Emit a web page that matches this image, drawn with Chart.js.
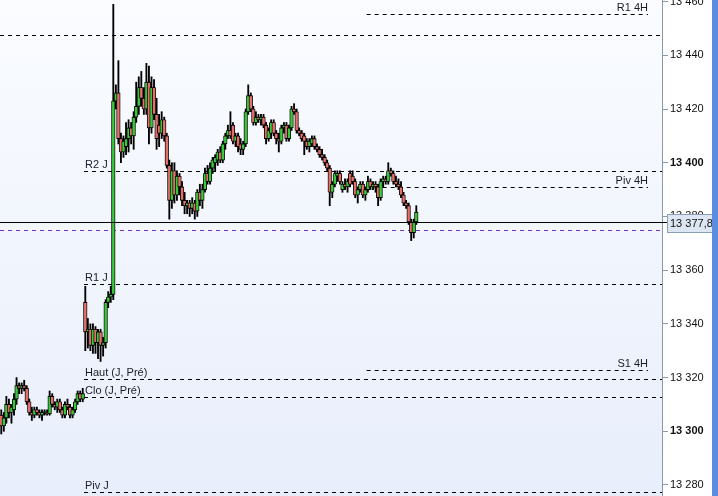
<!DOCTYPE html>
<html>
<head>
<meta charset="utf-8">
<script src="https://cdn.jsdelivr.net/npm/chart.js@4.4.1/dist/chart.umd.min.js"></script>
<style>
html, body { margin: 0; padding: 0; background: #fff; overflow: hidden; }
#wrap { position: relative; width: 718px; height: 496px; }
</style>
</head>
<body>
<div id="wrap"><canvas id="bougies"></canvas></div>
<script>
// bougies : ouverture / haut / bas / clôture
const opens = [
  13306,13302,13305,13310,13307,13308,13312,13317,13316,13317,
  13316,13311,13307,13306,13308,13307,13306,13307,13307,13306.5,
  13313,13310,13309,13311,13308,13306,13310,13309,13306,13308,
  13311,13314,13312,
  13348,13337,13338,13332,13338,13333,13337,13332,13333,13348,13350,13351,
  13423,13426,13409,13404,13406,13409,13413,13410,13417,13421,
  13428,13424,13420,13430,13413,13428,13418,13414,13411,13416,
  13410,13399,13386,13397,13388,13395,13391,13386,13384,13385,
  13383,13385,13382,13389,13386,13390,13396,13393,13398,13400,
  13401,13404,13401,13407,13410,13412,13414,13408,13410,13407,
  13405,13407,13419,13425,13420,13415,13417,13416,13417,13414,
  13409,13411,13415,13411,13409,13408,13413,13414,13409,13413,
  13420,13419,13412,13411,13410,13408,13406,13407,13409,13406,
  13405,13403,13402,13400,13398,
  13389,13392,13395,13396,13390,13392,13391,13396,13395,13393,
  13388,13390,13392,13388,13390,13393,13391,13392,13391,13387,
  13393,13394,13393,13397,13396,13393,13392,13391,13388,13385,
  13384,13378,13374,13378
];
const highs = [
  13308,13307,13313,13312,13310,13314,13320,13318,13318,13319,
  13317,13312,13309,13309,13309,13308,13308,13308,13308,13315,
  13314,13311,13312,13312,13309,13311,13312,13310,13309,13312,
  13315,13315,13316,
  13354,13342,13340,13340,13339,13338,13338,13335,13349,13352,13354,13459,
  13429,13438,13411,13410,13415,13416,13415,13419,13430,13432,
  13434,13428,13437,13436,13432,13431,13424,13418,13419,13417,
  13411,13401,13400,13400,13397,13396,13393,13389,13386,13386,
  13387,13386,13390,13392,13392,13398,13399,13400,13402,13403,
  13405,13406,13408,13411,13414,13419,13415,13411,13411,13409,
  13408,13420,13429,13426,13421,13419,13418,13418,13418,13415,
  13413,13416,13416,13412,13411,13414,13415,13415,13414,13421,
  13422,13420,13413,13412,13411,13409,13409,13410,13410,13407,
  13406,13405,13403,13401,13399,
  13393,13397,13397,13397,13393,13394,13394,13397,13397,13394,
  13391,13393,13393,13391,13395,13394,13393,13393,13392,13394,
  13395,13395,13400,13398,13397,13395,13394,13393,13389,13386,
  13385,13379,13379,13384
];
const lows = [
  13299,13300,13303,13305,13303,13306,13310,13314,13314,13315,
  13310,13306,13304,13305,13306,13305,13304,13306,13306,13306,
  13309,13308,13307,13307,13305,13305,13308,13305,13305,13307,
  13310,13311,13311,
  13330,13331,13330,13329,13329,13327,13326,13328,13331,13346,13348,13349,
  13420,13407,13400,13402,13403,13404,13407,13405,13415,13418,
  13421,13418,13418,13407,13411,13416,13405,13406,13409,13408,
  13398,13379,13383,13385,13386,13388,13384,13381,13381,13380,
  13381,13379,13380,13384,13383,13389,13392,13392,13396,13397,
  13399,13400,13400,13405,13409,13409,13407,13406,13404,13403,
  13403,13406,13418,13419,13414,13414,13415,13414,13413,13407,
  13408,13409,13410,13407,13404,13407,13411,13408,13408,13412,
  13418,13411,13410,13408,13403,13405,13404,13406,13405,13404,
  13402,13401,13399,13397,13384,
  13387,13391,13393,13392,13389,13390,13389,13391,13392,13387,
  13385,13389,13387,13386,13389,13390,13390,13389,13384,13386,
  13391,13392,13392,13395,13392,13391,13390,13387,13384,13383,
  13377,13371,13372,13377
];
const closes = [
  13302,13305,13310,13307,13309,13312,13317,13316,13317,13316,
  13311,13307,13306,13308,13307,13306,13307,13307,13306.5,13313,
  13310,13309,13311,13308,13306,13310,13309,13306,13308,13311,
  13314,13312,13314,
  13337,13338,13332,13338,13333,13337,13332,13333,13348,13350,13351,13423,
  13426,13409,13404,13408,13409,13413,13410,13417,13421,13428,
  13424,13420,13430,13413,13428,13418,13409,13411,13416,13410,
  13399,13386,13397,13388,13395,13391,13386,13384,13385,13383,
  13385,13382,13389,13386,13390,13396,13393,13398,13401,13402,
  13404,13401,13407,13410,13412,13410,13408,13410,13406,13405,
  13407,13419,13425,13420,13415,13417,13416,13417,13414,13409,
  13412,13415,13411,13409,13408,13413,13414,13409,13413,13420,
  13419,13412,13411,13409,13408,13406,13408,13409,13406,13405,
  13403,13402,13400,13398,13389,
  13392,13396,13396,13393,13392,13391,13393,13392,13393,13388,
  13390,13392,13388,13390,13393,13391,13392,13391,13387,13393,
  13394,13393,13397,13396,13393,13392,13391,13388,13385,13384,
  13378,13374,13378,13381.6
];
const slotCount = 260;   // places de bougies sur la largeur du graphe

// niveaux du jour (depuis l'ouverture de la séance)
const dayLevelNames = ['R2 J', 'R1 J', 'Haut (J, Pré)', 'Clo (J, Pré)', 'Piv J'];
const dayLevelValues = [13397.0, 13354.8, 13319.3, 13312.8, 13277.5];
const dayStart = 33;

// niveaux 4H
const h4LevelNames = ['R1 4H', 'Piv 4H', 'S1 4H'];
const h4LevelValues = [13455.4, 13390.9, 13323.0];
const h4Start = 144;
const h4End = 254;

const prevLevelValue = 13447.4;
const avgLevelValue = 13374.9;
const lastPrice = 13377.8;

const yMin = 13275.9;
const yMax = 13460.6;
const yStep = 20;

const FONT = "'Liberation Sans', Arial, sans-serif";

const fmt = v => String(v).replace(/\B(?=(\d{3})+(?!\d))/g, ' ');

const hline = (ctx, y, x1, x2, color, dash) => {
  ctx.save();
  ctx.strokeStyle = color;
  ctx.lineWidth = 1;
  ctx.setLineDash(dash);
  ctx.beginPath();
  ctx.moveTo(x1, Math.round(y) + 0.5);
  ctx.lineTo(x2, Math.round(y) + 0.5);
  ctx.stroke();
  ctx.restore();
};

const levelsPlugin = {
  id: 'niveaux',
  beforeDraw(chart) {
    const {ctx, chartArea: a} = chart;
    const g = ctx.createLinearGradient(0, a.top, 0, a.bottom);
    g.addColorStop(0, '#fafcff');
    g.addColorStop(1, '#e8eefb');
    ctx.save();
    ctx.fillStyle = g;
    ctx.fillRect(a.left, a.top, a.width, a.height);
    ctx.restore();
  },
  beforeDatasetsDraw(chart) {
    const {ctx, chartArea: a, scales: {x, y}} = chart;
    const half = (x.getPixelForValue(1) - x.getPixelForValue(0)) / 2;
    const dash = [4, 4];
    const dayX = x.getPixelForValue(dayStart) - half;
    const h4X1 = x.getPixelForValue(h4Start) - half;
    const h4X2 = x.getPixelForValue(h4End);

    hline(ctx, y.getPixelForValue(prevLevelValue), a.left, a.right, '#000', dash);
    hline(ctx, y.getPixelForValue(avgLevelValue), a.left, a.right, '#7b2fc0', dash);

    ctx.save();
    ctx.font = '11px ' + FONT;
    ctx.fillStyle = '#1c1c28';
    ctx.textBaseline = 'alphabetic';
    dayLevelValues.forEach((v, i) => {
      const py = y.getPixelForValue(v);
      hline(ctx, py, dayX, a.right, '#000', dash);
      ctx.textAlign = 'left';
      ctx.fillText(dayLevelNames[i], dayX + 1, Math.round(py) - 3);
    });
    h4LevelValues.forEach((v, i) => {
      const py = y.getPixelForValue(v);
      hline(ctx, py, h4X1, h4X2, '#000', dash);
      ctx.textAlign = 'right';
      ctx.fillText(h4LevelNames[i], h4X2, Math.round(py) - 3);
    });
    ctx.restore();
  },
  afterDraw(chart) {
    const {ctx, chartArea: a, scales: {y}} = chart;
    const py = y.getPixelForValue(lastPrice);
    hline(ctx, py, a.left, a.right + 5, '#000', []);

    // étiquette du dernier cours
    ctx.save();
    const bx = a.right + 5, by = Math.round(py) - 8;
    ctx.fillStyle = '#dde7f3';
    ctx.fillRect(bx, by, 45, 18);
    ctx.strokeStyle = '#8a9fb6';
    ctx.strokeRect(bx + 0.5, by + 0.5, 45, 18);
    ctx.fillStyle = '#111';
    ctx.font = '11px ' + FONT;
    ctx.textAlign = 'left';
    ctx.textBaseline = 'middle';
    ctx.fillText(fmt(lastPrice.toFixed(1)).replace('.', ','), bx + 3, by + 10);

    // bord bleu de la fenêtre
    ctx.fillStyle = '#5a8ddf';
    ctx.fillRect(chart.width - 6, 0, 6, chart.height);
    ctx.restore();
  }
};

const printChart = () => {
  const labels = Array.from({length: slotCount}, (_, i) => i);
  const bodyColors = opens.map((o, i) => closes[i] >= o ? '#3cc83c' : '#e4706a');

  const data = {
    labels,
    datasets: [{
      label: 'mèches',
      data: lows.map((l, i) => [l, highs[i]]),
      backgroundColor: '#000',
      barThickness: 1.2,
      grouped: false,
      order: 2
    }, {
      label: 'corps',
      data: opens.map((o, i) => [o, closes[i]]),
      backgroundColor: bodyColors,
      borderColor: '#000',
      borderWidth: 0.9,
      borderSkipped: false,
      barThickness: 3.6,
      minBarLength: 1,
      grouped: false,
      order: 1
    }]
  };

  const options = {
    responsive: true,
    maintainAspectRatio: false,
    animation: false,
    layout: {padding: 0},
    plugins: {legend: {display: false}, tooltip: {enabled: false}},
    scales: {
      x: {type: 'category', display: false},
      y: {
        position: 'right',
        min: yMin,
        max: yMax,
        border: {display: true, color: '#8799ab'},
        grid: {drawOnChartArea: false, drawTicks: true, tickLength: 6, color: '#8799ab'},
        ticks: {
          stepSize: yStep,
          includeBounds: false,
          padding: 2,
          color: '#111',
          font: ctx => ({family: FONT, size: 11, weight: ctx.tick && ctx.tick.value % 100 === 0 ? 'bold' : 'normal'}),
          callback: v => fmt(v)
        },
        afterFit: scale => {
          scale.width = 56;
          scale.paddingTop = 0;
          scale.paddingBottom = 0;
        }
      }
    }
  };

  new Chart('bougies', {type: 'bar', data, options, plugins: [levelsPlugin]});
};

printChart();
</script>
</body>
</html>
